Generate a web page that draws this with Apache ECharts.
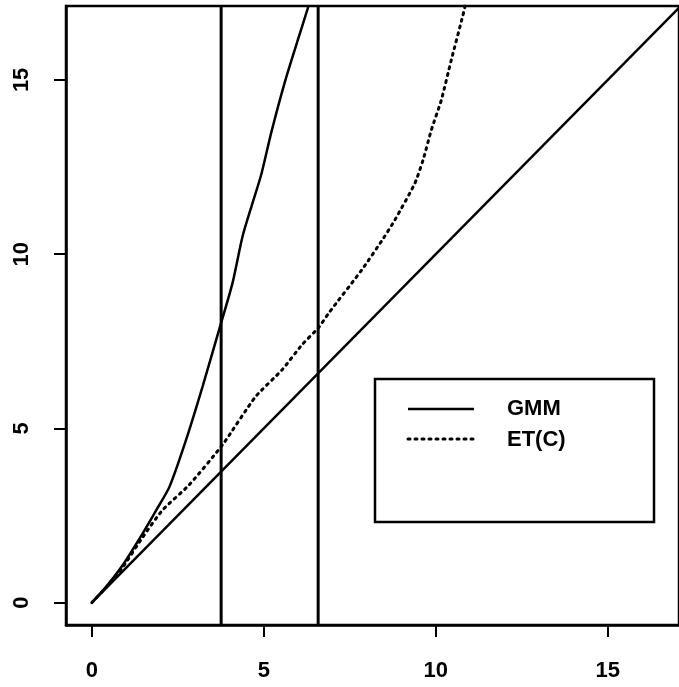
<!DOCTYPE html>
<html>
<head>
<meta charset="utf-8">
<script src="https://cdn.jsdelivr.net/npm/echarts@6/dist/echarts.min.js"></script>
<style>
html,body{margin:0;padding:0;background:#fff;}
#chart{width:679px;height:687px;}
</style>
</head>
<body>
<div id="chart"></div>
<script>
// ---- data ----
const xTicks = [0, 5, 10, 15];
const yTicks = [0, 5, 10, 15];
const xRange = [-0.75, 17.07];
const yRange = [-0.64, 17.12];

const gmmX = [0, 0.45, 0.9, 1.48, 1.9, 2.26, 2.74, 3.22, 3.70, 4.09, 4.38, 4.67, 4.93, 5.22, 5.63, 6.02, 6.30];
const gmmY = [0, 0.50, 1.08, 1.99, 2.70, 3.33, 4.67, 6.20, 7.83, 9.17, 10.50, 11.46, 12.30, 13.50, 15.00, 16.24, 17.12];

const etX = [0, 0.45, 0.9, 1.48, 2.06, 2.83, 3.80, 4.76, 5.53, 6.11, 6.60, 6.88, 7.85, 8.48, 8.81, 9.39, 9.63, 9.87, 10.16, 10.45, 10.79, 10.85];
const etY = [0, 0.48, 1.02, 1.88, 2.66, 3.38, 4.53, 5.91, 6.68, 7.40, 7.90, 8.30, 9.55, 10.46, 10.98, 12.03, 12.70, 13.56, 14.42, 15.57, 16.86, 17.12];

const diagX = [0, 17.2];
const diagY = [0, 17.2];

const vLines = [3.76, 6.58];

const legendNames = ['GMM', 'ET(C)'];

// ---- build chart ----
const zip = (a, b) => a.map((v, i) => [v, b[i]]);
const ink = '#000';
const fontFam = '"Liberation Sans", Arial, Helvetica, sans-serif';

const series = [
  {
    type: 'line', name: 'diag', data: zip(diagX, diagY), showSymbol: false, symbol: 'none',
    lineStyle: { color: ink, width: 2.5 }, silent: true, clip: true
  },
  {
    type: 'line', name: legendNames[0], data: zip(gmmX, gmmY), showSymbol: false, symbol: 'none', smooth: 0.25,
    lineStyle: { color: ink, width: 2.5 }, silent: true, clip: true
  },
  {
    type: 'line', name: legendNames[1], data: zip(etX, etY), showSymbol: false, symbol: 'none', smooth: 0.2,
    lineStyle: { color: ink, width: 3, type: [2, 5], cap: 'round' }, silent: true, clip: true
  }
];
vLines.forEach((v, i) => {
  series.push({
    type: 'line', name: 'v' + i, data: [[v, yRange[0]], [v, yRange[1]]], showSymbol: false, symbol: 'none',
    lineStyle: { color: ink, width: 3 }, silent: true, clip: true
  });
});

const chart = echarts.init(document.getElementById('chart'), null, { renderer: 'canvas' });
chart.setOption({
  animation: false,
  backgroundColor: '#fff',
  grid: {
    left: 66, right: -3, top: 6, bottom: 62,
    show: true, borderColor: ink, borderWidth: 2.5, backgroundColor: 'transparent'
  },
  xAxis: {
    type: 'value', min: xRange[0], max: xRange[1],
    splitLine: { show: false },
    axisLine: { show: true, onZero: false, lineStyle: { color: ink, width: 2.5 } },
    axisTick: { show: true, inside: false, length: 12, lineStyle: { color: ink, width: 2 }, customValues: xTicks },
    axisLabel: { show: true, customValues: xTicks, margin: 35, color: ink, fontSize: 22, fontWeight: 'bold', fontFamily: fontFam }
  },
  yAxis: {
    type: 'value', min: yRange[0], max: yRange[1],
    splitLine: { show: false },
    axisLine: { show: true, onZero: false, lineStyle: { color: ink, width: 2.5 } },
    axisTick: { show: true, inside: false, length: 12, lineStyle: { color: ink, width: 2 }, customValues: yTicks },
    axisLabel: { show: true, customValues: yTicks, rotate: 90, margin: 33, color: ink, fontSize: 22, fontWeight: 'bold', fontFamily: fontFam }
  },
  series: series,
  graphic: [
    { type: 'rect', shape: { x: 375, y: 379, width: 279, height: 143 }, style: { fill: '#fff', stroke: ink, lineWidth: 2.5 }, z: 100 },
    { type: 'line', shape: { x1: 408, y1: 409, x2: 474, y2: 409 }, style: { stroke: ink, lineWidth: 2.5 }, z: 101 },
    { type: 'line', shape: { x1: 408, y1: 439, x2: 474, y2: 439 }, style: { stroke: ink, lineWidth: 3, lineDash: [2, 5], lineCap: 'round' }, z: 101 },
    { type: 'text', x: 507, y: 409, style: { text: legendNames[0], fill: ink, font: 'bold 22px ' + fontFam, textVerticalAlign: 'middle', verticalAlign: 'middle' }, z: 101 },
    { type: 'text', x: 507, y: 440, style: { text: legendNames[1], fill: ink, font: 'bold 22px ' + fontFam, textVerticalAlign: 'middle', verticalAlign: 'middle' }, z: 101 }
  ]
});
</script>
</body>
</html>
